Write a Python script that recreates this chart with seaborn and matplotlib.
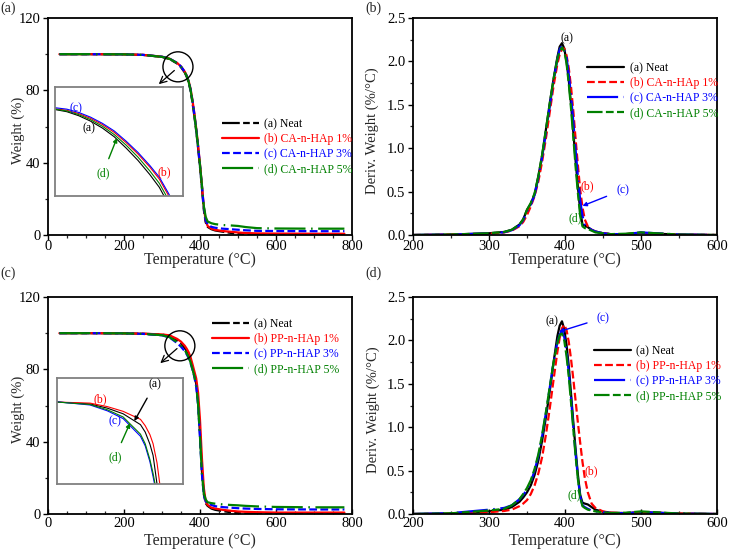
"""TGA and DTG curves of CA / PP nano-HAp composites (four panels)."""

import matplotlib

matplotlib.use("Agg")
import matplotlib.pyplot as plt
from matplotlib.patches import Ellipse
from matplotlib.ticker import MultipleLocator
import pandas as pd
import seaborn as sns

# ---------------------------------------------------------------- data
SERIES = ["(a) Neat", "(b) {} 1%", "(c) {} 3%", "(d) {} 5%"]
COLORS = ["#000000", "#ff0000", "#0000ff", "#008000"]

# TGA, weight (%) vs temperature
tga_temp = [30, 100, 200, 250, 300, 320, 340, 350, 360, 365, 370, 375, 380, 385,
            390, 395, 400, 405, 410, 415, 420, 430, 440, 460, 480, 500, 520, 550,
            600, 700, 780]

tga_ca_neat = [100, 100, 99.9, 99.6, 98.5, 97.3, 94.8, 92.8, 89.8, 87.5, 84.5, 80.0,
               73.5, 66.0, 57.5, 48.0, 37.5, 26.0, 14.0, 7.0, 4.5, 3.2, 2.5, 1.8,
               1.2, 0.6, 0.2, 0.0, 0.0, 0.0, 0.0]
tga_ca_1 = [100, 100, 99.9, 99.6, 98.6, 97.5, 95.1, 93.2, 90.3, 88.1, 85.2, 81.0,
            74.8, 67.5, 59.0, 49.5, 39.0, 27.5, 15.5, 8.0, 5.0, 3.5, 2.8, 2.2, 1.8,
            1.4, 1.1, 0.9, 0.8, 0.7, 0.7]
tga_ca_3 = [100, 100, 99.9, 99.6, 98.6, 97.5, 95.1, 93.2, 90.2, 88.0, 85.0, 80.7,
            74.4, 67.0, 58.5, 49.0, 38.5, 27.0, 15.5, 8.0, 6.0, 4.5, 4.0, 3.5, 3.2,
            2.9, 2.6, 2.3, 2.2, 2.1, 2.1]
tga_ca_5 = [100, 100, 99.9, 99.6, 98.5, 97.4, 95.0, 93.0, 90.0, 87.8, 84.8, 80.4,
            74.0, 66.6, 58.2, 48.8, 38.5, 27.5, 16.0, 10.0, 7.5, 6.5, 6.0, 5.5, 5.3,
            5.0, 4.4, 3.8, 3.6, 3.5, 3.5]

tga_pp_neat = [100, 100, 99.9, 99.7, 99.2, 98.5, 96.0, 94.3, 91.8, 90.0, 88.0, 84.8,
               81.0, 77.0, 72.0, 62.0, 44.0, 24.0, 11.0, 6.0, 4.5, 3.0, 2.3, 1.6,
               1.0, 0.5, 0.1, 0.0, 0.0, 0.0, 0.0]
tga_pp_1 = [100, 100, 99.9, 99.7, 99.3, 98.8, 96.8, 95.3, 93.0, 91.4, 89.5, 86.8,
            83.0, 79.0, 75.0, 67.0, 52.0, 31.0, 14.5, 7.0, 5.0, 3.5, 3.0, 2.3, 1.8,
            1.4, 1.2, 1.0, 0.8, 0.8, 0.8]
tga_pp_3 = [100, 100, 99.9, 99.6, 98.8, 97.6, 94.5, 92.5, 90.0, 88.3, 86.3, 83.5,
            80.0, 76.0, 70.5, 60.0, 42.0, 22.0, 10.5, 7.0, 6.0, 5.0, 4.3, 3.8, 3.5,
            3.2, 3.0, 2.8, 2.6, 2.5, 2.5]
tga_pp_5 = [100, 100, 99.9, 99.6, 98.9, 97.8, 95.0, 93.0, 90.5, 88.8, 86.8, 84.0,
            80.3, 76.3, 71.0, 60.5, 42.5, 22.5, 11.5, 8.0, 6.5, 6.0, 5.7, 5.3, 5.0,
            4.8, 4.5, 4.2, 3.9, 3.7, 3.7]

# zoomed views of the onset (insets)
inset_ca_temp = [318, 323, 328, 333, 338, 343, 348, 353, 358, 362, 366, 370]
inset_ca_neat = [95.9, 95.6, 95.05, 94.3, 93.35, 92.15, 90.6, 88.9, 86.95, 85.2, 82.8, 80.5]
inset_ca_1 = [96.0, 95.8, 95.34, 94.68, 93.83, 92.75, 91.35, 89.78, 87.98, 86.33, 84.0, 81.5]
inset_ca_3 = [96.15, 95.95, 95.5, 94.85, 94.0, 92.95, 91.55, 90.0, 88.2, 86.6, 84.3, 81.8]
inset_ca_5 = [95.95, 95.7, 95.2, 94.5, 93.6, 92.45, 91.0, 89.35, 87.45, 85.75, 83.4, 81.0]

inset_pp_temp = [300, 321, 332, 342, 353, 356, 359, 361, 363.5, 365, 367]
inset_pp_neat = [96.05, 95.82, 95.3, 94.61, 93.28, 92.37, 90.88, 89.51, 86.0, 84.05, 81.45]
inset_pp_1 = [96.05, 95.92, 95.49, 94.91, 93.93, 93.15, 92.05, 90.94, 88.6, 86.39, 83.4]
inset_pp_3 = [96.08, 95.69, 94.97, 94.02, 91.85, 90.68, 88.73, 86.91, 84.44, 82.49, 79.89]
inset_pp_5 = [96.05, 95.75, 95.1, 94.22, 92.11, 90.94, 88.99, 87.3, 84.7, 82.75, 80.15]

# DTG, derivative weight (%/°C) vs temperature
dtg_temp = [200, 250, 300, 320, 330, 340, 345, 350, 355, 360, 365, 370, 375, 380,
            385, 390, 393, 396, 399, 402, 405, 408, 411, 414, 417, 420, 423, 426,
            430, 435, 440, 450, 460, 480, 500, 520, 550, 600]

dtg_ca_neat = [0, .005, .02, .035, .06, .12, .18, .29, .36, .47, .68, .92, 1.22, 1.52,
               1.80, 2.05, 2.17, 2.21, 2.15, 2.0, 1.78, 1.5, 1.18, .85, .55, .28, .12,
               .11, .09, .06, .04, .02, .01, .01, .025, .015, .005, 0]
dtg_ca_1 = [0, .005, .015, .03, .05, .10, .15, .23, .33, .45, .62, .85, 1.12, 1.42,
            1.72, 1.97, 2.08, 2.14, 2.15, 2.07, 1.92, 1.7, 1.42, 1.1, .8, .52, .32,
            .18, .1, .06, .04, .02, .01, .01, .025, .015, .005, 0]
dtg_ca_3 = [0, .005, .018, .032, .055, .11, .17, .27, .35, .46, .66, .9, 1.19, 1.49,
            1.78, 2.03, 2.14, 2.18, 2.14, 2.05, 1.85, 1.6, 1.3, .98, .67, .4, .22,
            .12, .09, .06, .04, .02, .01, .01, .03, .02, .005, 0]
dtg_ca_5 = [0, .005, .02, .035, .06, .12, .18, .29, .37, .48, .68, .93, 1.22, 1.52,
            1.8, 2.03, 2.12, 2.16, 2.12, 1.98, 1.74, 1.45, 1.12, .78, .48, .22, .1,
            .08, .07, .05, .03, .02, .01, .015, .03, .02, .005, 0]

dtg_pp_neat = [0, .005, .03, .05, .08, .14, .19, .25, .33, .45, .62, .85, 1.12, 1.42,
               1.75, 2.05, 2.17, 2.22, 2.13, 1.95, 1.7, 1.38, 1.05, .74, .45, .22,
               .13, .12, .11, .08, .05, .025, .015, .01, .02, .015, .005, 0]
dtg_pp_1 = [0, .003, .02, .035, .05, .09, .12, .16, .23, .33, .47, .66, .92, 1.22,
            1.55, 1.87, 2.03, 2.14, 2.18, 2.12, 1.98, 1.78, 1.55, 1.3, 1.05, .82, .6,
            .42, .25, .12, .07, .03, .015, .01, .02, .015, .005, 0]
dtg_pp_3 = [0, .01, .05, .07, .1, .17, .22, .28, .37, .5, .67, .9, 1.17, 1.46, 1.75,
            1.98, 2.07, 2.1, 2.04, 1.87, 1.63, 1.33, 1.0, .69, .42, .2, .1, .08, .06,
            .04, .03, .02, .01, .01, .02, .015, .005, 0]
dtg_pp_5 = [0, .008, .04, .06, .1, .17, .23, .3, .39, .52, .69, .92, 1.18, 1.47, 1.75,
            1.97, 2.06, 2.08, 2.0, 1.82, 1.58, 1.28, .97, .66, .4, .19, .09, .07, .05,
            .04, .03, .02, .01, .015, .03, .02, .005, 0]

# ---------------------------------------------------------------- style
TGA_STYLES = [(0, (8, 1.5, 3, 1.5, 3, 1.5)), "-", (0, (3.5, 1.5)),
              (0, (14, 2.5, 0.7, 2.5))]
DTG_STYLES = ["-", (0, (3.5, 1.5)), (0, (14, 2.5, 0.7, 2.5)),
              (0, (7, 1.5, 3.5, 1.5))]

sns.set_theme(style="ticks")
plt.rcParams["font.family"] = ["Liberation Serif", "DejaVu Serif"]

W, H = 729, 549


def _rect(left, top, right, bottom):
    return [left / W, 1 - bottom / H, (right - left) / W, (bottom - top) / H]


def _style_axes(ax, xlim, ylim, xmaj, xmin, ymaj, ymin, ylabel, ylab_x, xlab_y,
                top_row, fmt=None):
    ax.set_xlim(*xlim)
    ax.set_ylim(*ylim)
    ax.xaxis.set_major_locator(MultipleLocator(xmaj))
    ax.xaxis.set_minor_locator(MultipleLocator(xmin))
    ax.yaxis.set_major_locator(MultipleLocator(ymaj))
    ax.yaxis.set_minor_locator(MultipleLocator(ymin))
    if fmt:
        ax.yaxis.set_major_formatter(fmt)
    ax.tick_params(which="major", direction="out", length=3.5, width=1,
                   labelsize=10.5, pad=1, colors="black")
    ax.tick_params(which="minor", direction="out", length=2.2, width=0.9)
    ax.tick_params(axis="y", which="major", pad=2)
    if top_row:
        ax.tick_params(axis="x", which="major", pad=0)
    else:
        ax.tick_params(axis="x", which="both", direction="in", pad=2.5)
    for spine in ax.spines.values():
        spine.set_visible(True)
        spine.set_color("black")
        spine.set_linewidth(1.3)
    ax.set_xlabel("Temperature (°C)", fontsize=11.5)
    ax.set_ylabel(ylabel, fontsize=10.5)
    ax.xaxis.set_label_coords(0.5, xlab_y)
    ax.yaxis.set_label_coords(ylab_x, 0.48)


def _draw(ax, temp, curves, styles, names, lw=1.6):
    for label, values, color, ls in zip(names, curves, COLORS, styles):
        df = pd.DataFrame({"T": temp, "v": values})
        sns.lineplot(data=df, x="T", y="v", ax=ax, color=color, linestyle=ls,
                     linewidth=lw, label=label, estimator=None)


def _legend(ax, px, py):
    ax.legend(loc="upper left", bbox_to_anchor=(px / W, 1 - py / H),
              bbox_transform=ax.figure.transFigure, frameon=False, fontsize=8.5,
              handlelength=3.1, handletextpad=0.5, labelspacing=0.25,
              borderpad=0, borderaxespad=0, labelcolor="linecolor")


def _inset(fig, rect, temp, curves, xlim, ylim):
    ins = fig.add_axes(rect)
    for values, color in zip(curves, COLORS):
        ins.plot(temp, values, color=color, linewidth=0.8)
    ins.set_xlim(*xlim)
    ins.set_ylim(*ylim)
    ins.set_xticks([])
    ins.set_yticks([])
    for spine in ins.spines.values():
        spine.set_color("#808080")
        spine.set_linewidth(1.3)
    return ins


fig = plt.figure(figsize=(W / 100, H / 100), dpi=100)
ax_a = fig.add_axes(_rect(48, 18, 352, 235))
ax_b = fig.add_axes(_rect(413, 18, 717, 235))
ax_c = fig.add_axes(_rect(48, 297, 352, 514))
ax_d = fig.add_axes(_rect(413, 297, 717, 514))

ca_names = [s.format("CA-n-HAp" if i == 1 else "CA-n-HAP") for i, s in enumerate(SERIES)]
pp_names = [s.format("PP-n-HAp" if i == 1 else "PP-n-HAP") for i, s in enumerate(SERIES)]

# (a) TGA, CA
_draw(ax_a, tga_temp, [tga_ca_neat, tga_ca_1, tga_ca_3, tga_ca_5], TGA_STYLES, ca_names)
_style_axes(ax_a, (0, 800), (0, 120), 200, 50, 40, 20, "Weight (%)", -0.076, -0.08,
            True)
_legend(ax_a, 222, 118)
ax_a.add_patch(Ellipse((342, 93), 79, 16.6, fill=False, color="black", lw=1.0, zorder=6))
ax_a.annotate("", xy=(286, 82.4), xytext=(338, 92),
              arrowprops=dict(arrowstyle="->", color="black", lw=0.9))
ins_a = _inset(fig, _rect(55, 87, 183, 196), inset_ca_temp,
               [inset_ca_neat, inset_ca_1, inset_ca_3, inset_ca_5], (318, 372), (84, 99))
ins_a.text(0.164, 0.807, "(c)", color=COLORS[2], fontsize=8.5, ha="center",
           va="center", transform=ins_a.transAxes)
ins_a.text(0.266, 0.624, "(a)", color=COLORS[0], fontsize=8.5, ha="center",
           va="center", transform=ins_a.transAxes)
ins_a.text(0.85, 0.22, "(b)", color=COLORS[1], fontsize=8.5, ha="center",
           va="center", transform=ins_a.transAxes)
ins_a.annotate("(d)", xy=(0.484, 0.532), xytext=(0.375, 0.21), color=COLORS[3],
               fontsize=8.5, ha="center", va="center", xycoords="axes fraction",
               arrowprops=dict(arrowstyle="-|>", color=COLORS[3], lw=1.0,
                               mutation_scale=6, shrinkA=4, shrinkB=0))

# (b) DTG, CA
_draw(ax_b, dtg_temp, [dtg_ca_neat, dtg_ca_1, dtg_ca_3, dtg_ca_5], DTG_STYLES, ca_names)
_style_axes(ax_b, (200, 600), (0, 2.5), 100, 50, 0.5, 0.25, "Deriv. Weight (%/°C)",
            -0.112, -0.08, True, fmt="{x:.1f}")
_legend(ax_b, 587, 62)
ax_b.text(403, 2.27, "(a)", color=COLORS[0], fontsize=8.5, ha="center", va="center")
ax_b.text(429.5, 0.56, "(b)", color=COLORS[1], fontsize=8.5, ha="center", va="center")
ax_b.text(413, 0.19, "(d)", color=COLORS[3], fontsize=8.5, ha="center", va="center")
ax_b.annotate("(c)", xy=(423, 0.335), xytext=(476, 0.52), color=COLORS[2],
              fontsize=8.5, ha="center", va="center",
              arrowprops=dict(arrowstyle="-|>", color=COLORS[2], lw=1.0,
                              mutation_scale=6, shrinkA=5, shrinkB=0))

# (c) TGA, PP
_draw(ax_c, tga_temp, [tga_pp_neat, tga_pp_1, tga_pp_3, tga_pp_5], TGA_STYLES, pp_names)
_style_axes(ax_c, (0, 800), (0, 120), 200, 50, 40, 20, "Weight (%)", -0.076, -0.088,
            False)
_legend(ax_c, 212, 318)
ax_c.add_patch(Ellipse((347, 93), 79, 16.6, fill=False, color="black", lw=1.0, zorder=6))
ax_c.annotate("", xy=(290, 82.4), xytext=(345, 92.5),
              arrowprops=dict(arrowstyle="->", color="black", lw=0.9))
ins_c = _inset(fig, _rect(57, 378, 183, 484), inset_pp_temp,
               [inset_pp_neat, inset_pp_1, inset_pp_3, inset_pp_5], (300, 380), (86, 99))
ins_c.text(0.341, 0.80, "(b)", color=COLORS[1], fontsize=8.5, ha="center",
           va="center", transform=ins_c.transAxes)
ins_c.text(0.46, 0.588, "(c)", color=COLORS[2], fontsize=8.5, ha="center",
           va="center", transform=ins_c.transAxes)
ins_c.annotate("(a)", xy=(0.614, 0.594), xytext=(0.778, 0.943), color=COLORS[0],
               fontsize=8.5, ha="center", va="center", xycoords="axes fraction",
               arrowprops=dict(arrowstyle="-|>", color=COLORS[0], lw=1.0,
                               mutation_scale=6, shrinkA=4, shrinkB=0))
ins_c.annotate("(d)", xy=(0.579, 0.573), xytext=(0.46, 0.255), color=COLORS[3],
               fontsize=8.5, ha="center", va="center", xycoords="axes fraction",
               arrowprops=dict(arrowstyle="-|>", color=COLORS[3], lw=1.0,
                               mutation_scale=6, shrinkA=4, shrinkB=0))

# (d) DTG, PP
_draw(ax_d, dtg_temp, [dtg_pp_neat, dtg_pp_1, dtg_pp_3, dtg_pp_5], DTG_STYLES, pp_names)
_style_axes(ax_d, (200, 600), (0, 2.5), 100, 50, 0.5, 0.25, "Deriv. Weight (%/°C)",
            -0.109, -0.088, False, fmt="{x:.1f}")
_legend(ax_d, 594, 345)
ax_d.text(382.5, 2.22, "(a)", color=COLORS[0], fontsize=8.5, ha="center", va="center")
ax_d.text(434, 0.49, "(b)", color=COLORS[1], fontsize=8.5, ha="center", va="center")
ax_d.text(412.5, 0.21, "(d)", color=COLORS[3], fontsize=8.5, ha="center", va="center")
ax_d.annotate("(c)", xy=(392, 2.1), xytext=(450.5, 2.26), color=COLORS[2],
              fontsize=8.5, ha="center", va="center",
              arrowprops=dict(arrowstyle="-|>", color=COLORS[2], lw=1.0,
                              mutation_scale=6, shrinkA=5, shrinkB=0))

# panel letters
for letter, (px, py) in zip("abcd", [(0, 2), (365, 2), (0, 267), (365, 267)]):
    fig.text(px / W, 1 - py / H, f"({letter})", fontsize=10, ha="left", va="top")

fig.savefig("out.png", dpi=100)
plt.close(fig)
